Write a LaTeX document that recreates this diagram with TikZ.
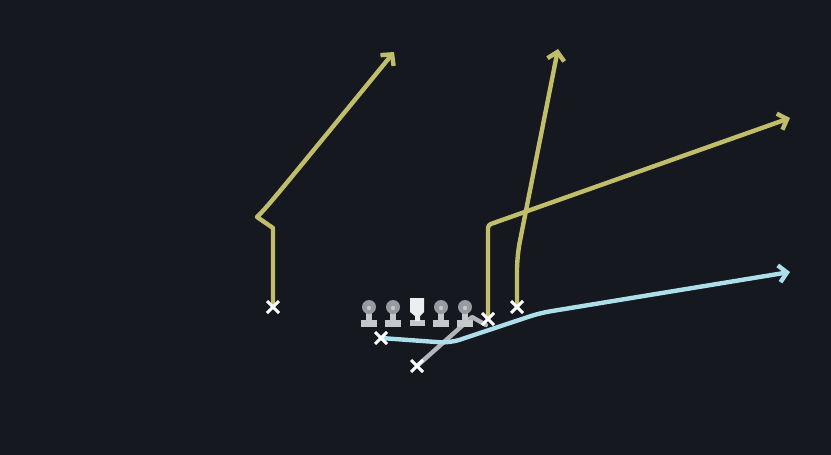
\documentclass[tikz,border=0pt]{standalone}
\usetikzlibrary{arrows.meta,shapes.misc}
\definecolor{bg}{RGB}{21,24,31}
\definecolor{routeyel}{RGB}{192,190,106}
\definecolor{routeblu}{RGB}{172,222,236}
\definecolor{routegry}{RGB}{178,181,185}
\definecolor{headgry}{RGB}{150,155,160}
\definecolor{bodygry}{RGB}{196,200,202}
\definecolor{centerwht}{RGB}{236,238,240}
\begin{document}
\begin{tikzpicture}[x=1pt,y=-1pt,
  rt/.style={line width=4.4pt, line join=round, line cap=round},
  arr/.style={-{Straight Barb[length=8pt,width=17pt]}},
  xmark/.style={cross out, draw=white, line width=3pt, minimum size=9pt, inner sep=0pt},
  lhead/.style={fill=headgry},
  lbody/.style={fill=bodygry}
]
\fill[bg] (0,0) rectangle (831,455);
\useasboundingbox (0,0) rectangle (831,455);

% player positions
\coordinate (wr1) at (273,307);
\coordinate (wr2) at (488,319);
\coordinate (wr3) at (517,307);
\coordinate (bk1) at (381,338);
\coordinate (bk2) at (417,366);
% route ends
\coordinate (e1) at (394,52);
\coordinate (e2) at (790,118);
\coordinate (e3) at (558,49);
\coordinate (e4) at (790,272);
\coordinate (e5) at (486,325);

% routes
\draw[rt,routeyel,arr] (wr1) -- (273,228) -- (257,217) .. controls (268,206) .. (e1);
\draw[rt,routeyel,arr,rounded corners=3pt] (wr2) -- (488,225) -- (e2);
\draw[rt,routeyel,arr,rounded corners=14pt] (wr3) -- (517,256) -- (e3);
\draw[rt,routegry] (bk2) -- (472,317) -- (e5);
\draw[rt,routeblu,arr,rounded corners=10pt] (bk1) -- (450,343) -- (540,313) -- (e4);

% line
\foreach \x in {369,393,441,465}{
  \fill[lbody] (\x-8,320) rectangle (\x+8,327);
  \fill[lbody] (\x-3,311) rectangle (\x+3,321);
  \fill[lhead] (\x,307) circle (7pt);
  \fill[bodygry] (\x,308) circle (2.2pt);
}
\fill[lbody] (410,320) rectangle (425,326);
\fill[centerwht] (410,298) -- (424,298) -- (424,312) -- (420,316) -- (420,321) -- (415,321) -- (415,316) -- (410,312) -- cycle;

% players
\node[xmark] (p1) at (wr1) {};
\node[xmark] (p2) at (wr2) {};
\node[xmark] (p3) at (wr3) {};
\node[xmark] (p4) at (bk1) {};
\node[xmark] (p5) at (bk2) {};
\end{tikzpicture}
\end{document}
